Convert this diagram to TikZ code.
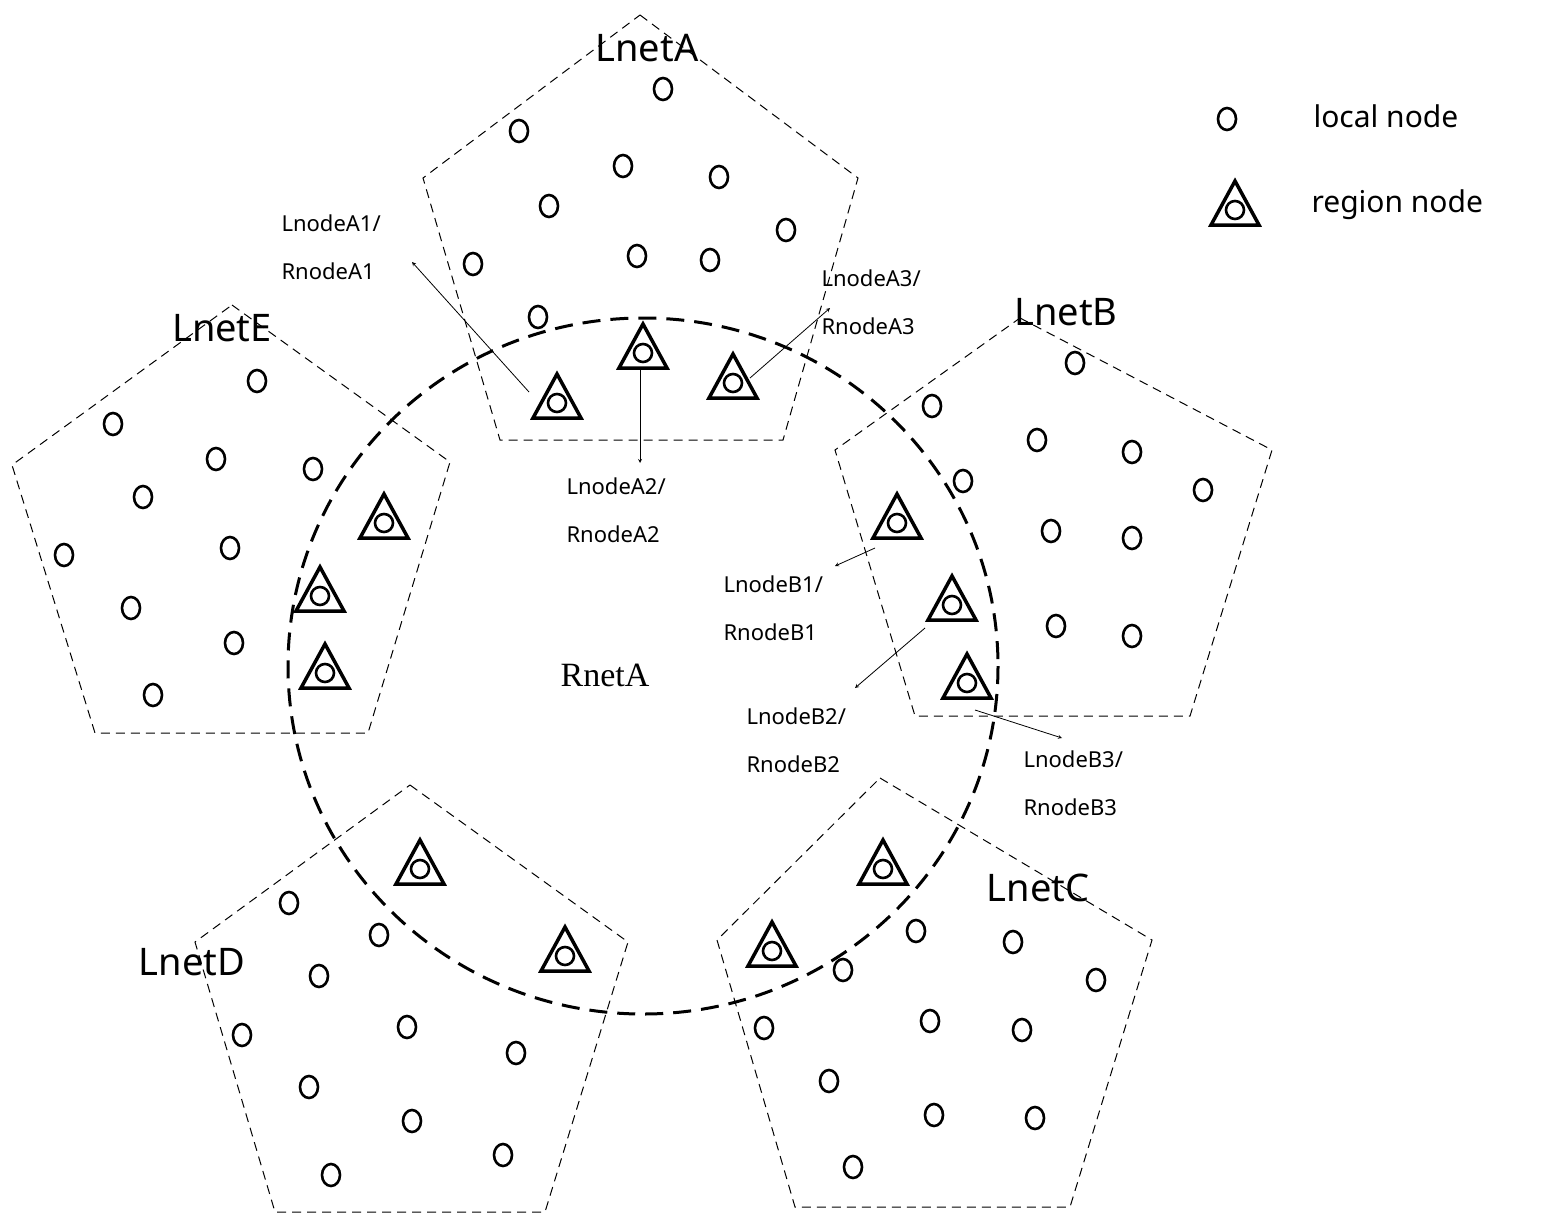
\documentclass[tikz,border=0pt]{standalone}
\usepackage{fontspec}
\usetikzlibrary{shapes.geometric}
\setmainfont{Noto Sans}
\newfontfamily\serifA{Liberation Serif}
\begin{document}
\begin{tikzpicture}[x=1pt,y=-1pt,
 pent/.style={draw,line width=1pt,dash pattern=on 9pt off 6pt},
 ln/.style={draw,line width=2.6pt,ellipse,minimum width=18pt,minimum height=22pt,inner sep=0pt},
 lbl/.style={align=left,font=\fontsize{22}{48}\selectfont,anchor=west},
 net/.style={font=\fontsize{38}{40}\selectfont\bfseries},
 arr/.style={->,>=stealth,line width=0.8pt}]
\useasboundingbox (0,0) rectangle (1546,1227);
% pentagons
\draw[pent] (640,15)--(858,178)--(783,440)--(500,440)--(423,178)--cycle;
\draw[pent] (1020,318)--(1272,450)--(1190,716)--(915,716)--(835,450)--cycle;
\draw[pent] (232,305)--(450,462)--(368,733)--(95,733)--(12,465)--cycle;
\draw[pent] (410,785)--(628,942)--(545,1212)--(275,1212)--(195,942)--cycle;
\draw[pent] (880,778)--(1152,940)--(1070,1207)--(795,1207)--(717,940)--cycle;
% RnetA
\draw[line width=3pt,dash pattern=on 18pt off 10pt] (643,666) ellipse [x radius=355,y radius=348];
% local nodes
\foreach \p [count=\i] in {(663,89),(519,131),(623,166),(719,177),(549,206),(786,230),(637,256),(710,260),(473,264),(538,317),
(1075,363),(932,406),(1037,440),(1132,452),(1203,490),(963,481),(1051,531),(1132,538),(1056,626),(1132,636),
(257,381),(113,424),(216,459),(313,469),(143,497),(230,548),(64,555),(131,608),(234,643),(153,695),
(289,903),(379,935),(319,976),(242,1035),(407,1027),(516,1053),(309,1087),(412,1121),(503,1155),(331,1175),
(916,931),(1013,942),(1096,980),(843,970),(764,1028),(930,1021),(1022,1030),(829,1081),(934,1115),(1035,1118),(853,1167),
(1227,119)}
 \node[ln] (l\i) at \p {};
% region nodes
\foreach \xx/\yy in {557/400,643/350,733/380,897/520,952/602,967/680,
384/520,320/593,325/670,420/866,565/953,883/866,772/948,1235/207}{
 \begin{scope}[shift={(\xx,\yy)}]
 \draw[line width=3.5pt,line join=miter] (0,-26)--(24,18)--(-24,18)--cycle;
 \draw[line width=2.6pt] (0,3) circle (9);
 \end{scope}
}
% labels
\node[lbl] (ta1) at (278,247) {LnodeA1/\\RnodeA1};
\node[lbl] (ta2) at (563,510) {LnodeA2/\\RnodeA2};
\node[lbl] (ta3) at (818,302) {LnodeA3/\\RnodeA3};
\node[lbl] (tb1) at (720,608) {LnodeB1/\\RnodeB1};
\node[lbl] (tb2) at (743,740) {LnodeB2/\\RnodeB2};
\node[lbl] (tb3) at (1020,783) {LnodeB3/\\RnodeB3};
\coordinate (sa1) at (529,392); \coordinate (ea1) at (412,262);
\coordinate (sa2) at (640,370); \coordinate (ea2) at (640,463);
\coordinate (sa3) at (750,378); \coordinate (ea3) at (830,308);
\coordinate (sb1) at (875,548); \coordinate (eb1) at (835,566);
\coordinate (sb2) at (925,628); \coordinate (eb2) at (855,688);
\coordinate (sb3) at (975,710); \coordinate (eb3) at (1062,738);
\draw[arr] (sa1)--(ea1);
\draw[arr] (sa2)--(ea2);
\draw[arr] (sa3)--(ea3);
\draw[arr] (sb1)--(eb1);
\draw[arr] (sb2)--(eb2);
\draw[arr] (sb3)--(eb3);
\node[net] (na) at (647,48) {LnetA};
\node[net] (nb) at (1066,312) {LnetB};
\node[net] (ne) at (222,328) {LnetE};
\node[net] (nd) at (192,962) {LnetD};
\node[net] (nc) at (1038,888) {LnetC};
\node[font=\serifA\fontsize{34}{36}\selectfont] (rn) at (605,675) {RnetA};
\node[anchor=west,font=\fontsize{30}{32}\selectfont] (t1) at (1310,116) {local node};
\node[anchor=west,font=\fontsize{30}{32}\selectfont] (t2) at (1308,205) {region node};
\end{tikzpicture}
\end{document}
